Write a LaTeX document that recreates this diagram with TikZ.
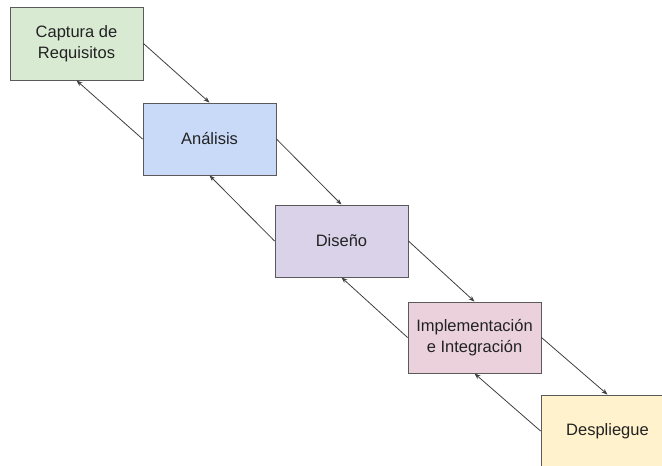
\documentclass[tikz,border=0pt]{standalone}
\usepackage{fontspec}
\setmainfont{Liberation Sans}
\usetikzlibrary{arrows.meta}
\definecolor{ink}{HTML}{222222}
\definecolor{edge}{HTML}{5A5A5A}
\definecolor{wire}{HTML}{404040}
\definecolor{cgreen}{HTML}{D9EAD3}
\definecolor{cblue}{HTML}{C9DAF8}
\definecolor{cpurple}{HTML}{D9D2E9}
\definecolor{cpink}{HTML}{EAD1DC}
\definecolor{cyellow}{HTML}{FFF2CC}
\begin{document}
\begin{tikzpicture}[x=1pt,y=-1pt,
  stage/.style={draw=edge,line width=0.9pt,minimum width=133pt,minimum height=72pt,
    inner sep=0pt,align=center,text=ink,font=\fontsize{16.5}{20.6}\selectfont},
  flow/.style={draw=wire,line width=0.8pt,-{Stealth[length=6pt,width=4.5pt]}}]
\useasboundingbox (0,0) rectangle (662,466);
\clip (0,0) rectangle (662,466);
\fill[white] (0,0) rectangle (662,466);
\node[stage,fill=cgreen,minimum height=73pt] (req) at (76.5,43.5) {Captura de\\Requisitos};
\node[stage,fill=cblue] (ana) at (209.5,139) {Análisis};
\node[stage,fill=cpurple] (dis) at (341.5,241) {Diseño};
\node[stage,fill=cpink,minimum height=71pt] (imp) at (474.5,337.5) {Implementación\\e Integración};
\node[stage,fill=cyellow] (des) at (607.5,431) {Despliegue};
% forward flow
\draw[flow] (req.east) -- (ana.north);
\draw[flow] (ana.east) -- (dis.north);
\draw[flow] (dis.east) -- (imp.north);
\draw[flow] (imp.east) -- (des.north);
% feedback
\draw[flow] (ana.west) -- (req.south);
\draw[flow] (dis.west) -- (ana.south);
\draw[flow] (imp.west) -- (dis.south);
\draw[flow] (des.west) -- (imp.south);
\end{tikzpicture}
\end{document}
